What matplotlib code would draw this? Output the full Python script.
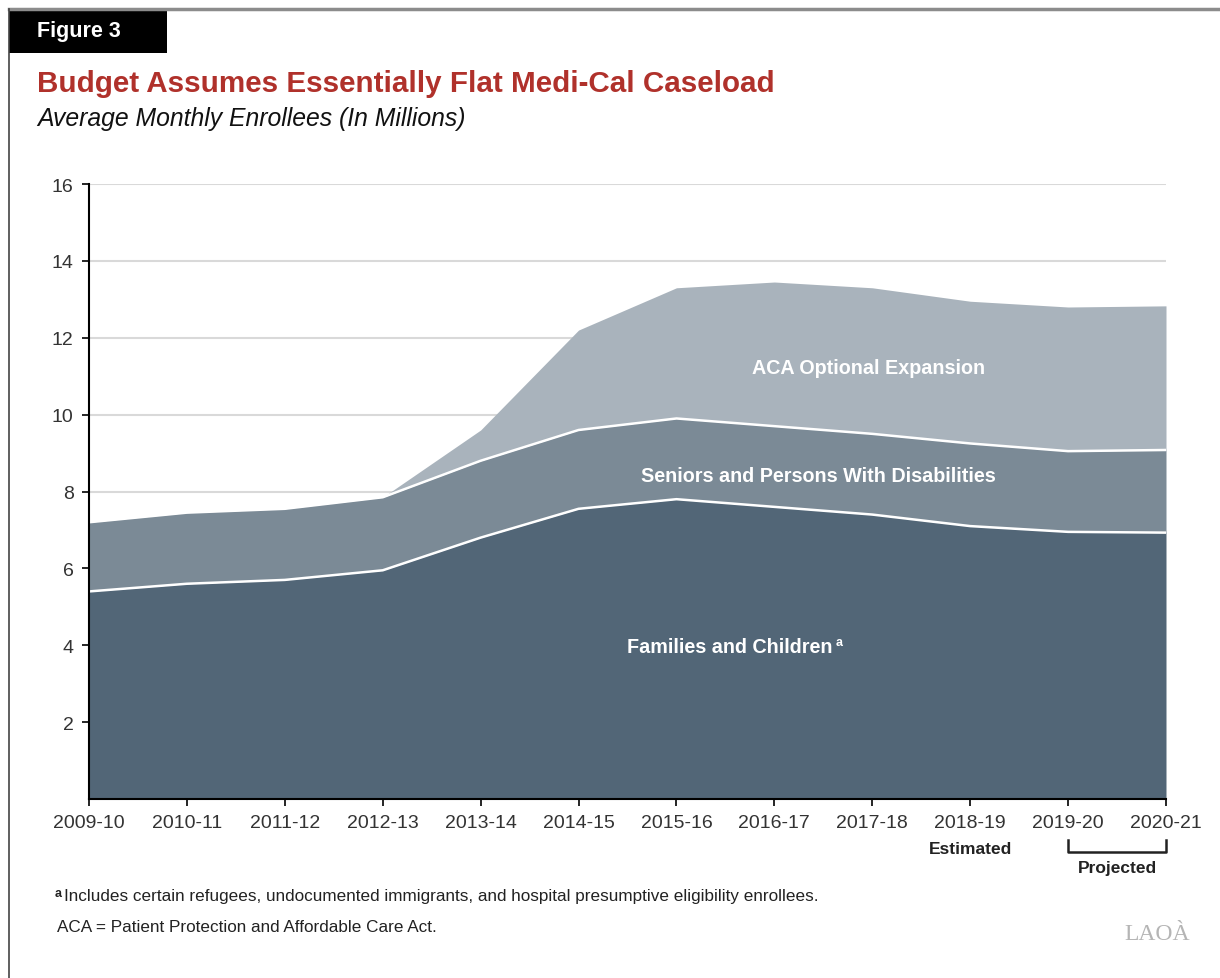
import matplotlib.pyplot as plt
from matplotlib.patches import Rectangle
from matplotlib.lines import Line2D
import matplotlib.transforms as mtransforms

plt.rcParams["font.family"] = ["Liberation Sans", "DejaVu Sans"]

years = ["2009-10", "2010-11", "2011-12", "2012-13", "2013-14", "2014-15",
         "2015-16", "2016-17", "2017-18", "2018-19", "2019-20", "2020-21"]
families = [5.4, 5.6, 5.7, 5.95, 6.8, 7.55, 7.8, 7.6, 7.4, 7.1, 6.95, 6.93]
seniors = [1.8, 1.85, 1.85, 1.9, 2.0, 2.05, 2.1, 2.1, 2.1, 2.15, 2.1, 2.15]
aca = [0, 0, 0, 0, 0.8, 2.6, 3.4, 3.75, 3.8, 3.7, 3.75, 3.75]

x = list(range(len(years)))
lvl1 = families
lvl2 = [a + b for a, b in zip(families, seniors)]
lvl3 = [a + b for a, b in zip(lvl2, aca)]

fig = plt.figure(figsize=(12.2, 9.79), dpi=100)
ax = fig.add_axes([89 / 1220, 1 - 800 / 979, (1166 - 89) / 1220, (800 - 185) / 979])

# stacked areas
ax.fill_between(x, 0, lvl1, color="#526677", lw=0, zorder=2)
ax.fill_between(x, lvl1, lvl2, color="#7b8a96", lw=0, zorder=2)
ax.fill_between(x, lvl2, lvl3, color="#a9b3bc", lw=0, zorder=2)
ax.plot(x, lvl1, color="white", lw=1.8, zorder=3)
ax.plot(x, lvl2, color="white", lw=1.8, zorder=3)

ax.set_xlim(0, 11)
ax.set_ylim(0, 16)
ax.set_yticks(range(2, 17, 2))
ax.set_xticks(x)
ax.set_xticklabels(years)
ax.tick_params(axis="both", labelsize=14, colors="black", length=5, width=1.2,
               labelcolor="#333333")
ax.tick_params(axis="x", pad=6)
ax.tick_params(axis="y", pad=6)
ax.grid(axis="y", color="#d9d9d9", lw=1.5, zorder=0)
ax.set_axisbelow(True)
for s in ["top", "right"]:
    ax.spines[s].set_visible(False)
for s in ["left", "bottom"]:
    ax.spines[s].set_linewidth(1.5)
    ax.spines[s].set_zorder(4)

# series labels
ax.text(7.96, 11.22, "ACA Optional Expansion", color="white", fontsize=14.2,
        fontweight="bold", ha="center", va="center", zorder=5)
ax.text(7.45, 8.42, "Seniors and Persons With Disabilities", color="white",
        fontsize=14.2, fontweight="bold", ha="center", va="center", zorder=5)
ax.text(6.54, 3.97, "Families and Children", color="white",
        fontsize=14.2, fontweight="bold", ha="center", va="center", zorder=5)
ax.text(7.63, 4.08, "a", color="white", fontsize=9, fontweight="bold",
        ha="left", va="center", zorder=5)

# estimated / projected annotations
trans = mtransforms.blended_transform_factory(ax.transData, ax.transAxes)
ax.text(9, -0.08, "Estimated", transform=trans, ha="center", va="center",
        fontsize=12.5, fontweight="bold", color="#222222")
ax.plot([10, 10, 11, 11], [-0.067, -0.086, -0.086, -0.067], transform=trans,
        color="#222222", lw=1.8, clip_on=False)
ax.text(10.5, -0.112, "Projected", transform=trans, ha="center", va="center",
        fontsize=12.5, fontweight="bold", color="#222222")

# page frame and header
fig.add_artist(Line2D([9 / 1220, 1], [1 - 10 / 979] * 2, color="#8c8c8c", lw=2.5))
fig.add_artist(Line2D([9 / 1220] * 2, [0, 1 - 10 / 979], color="#444444", lw=1.2))
fig.add_artist(Rectangle((9 / 1220, 1 - 54 / 979), 158 / 1220, 44 / 979,
                         transform=fig.transFigure, color="black", lw=0))
fig.text(37 / 1220, 1 - 32 / 979, "Figure 3", color="white", fontsize=15.5,
         fontweight="bold", va="center", ha="left")
fig.text(37 / 1220, 1 - 84 / 979, "Budget Assumes Essentially Flat Medi-Cal Caseload",
         color="#b0312b", fontsize=21.3, fontweight="bold", va="center", ha="left")
fig.text(37 / 1220, 1 - 119 / 979, "Average Monthly Enrollees (In Millions)",
         color="#111111", fontsize=17.8, style="italic", va="center", ha="left")

# footnotes
fig.text(55 / 1220, 1 - 894 / 979, "a", fontsize=9, va="center", ha="left",
         color="#222222", fontweight="bold")
fig.text(64 / 1220, 1 - 897 / 979,
         "Includes certain refugees, undocumented immigrants, and hospital presumptive eligibility enrollees.",
         fontsize=12.3, va="center", ha="left", color="#222222")
fig.text(57 / 1220, 1 - 928 / 979, "ACA = Patient Protection and Affordable Care Act.",
         fontsize=12.3, va="center", ha="left", color="#222222")
fig.text(1157 / 1220, 1 - 935 / 979, "LAOÀ", fontsize=17, va="center",
         ha="center", color="#b5b5b5", family="Liberation Serif")

fig.savefig("out.png", dpi=100)
